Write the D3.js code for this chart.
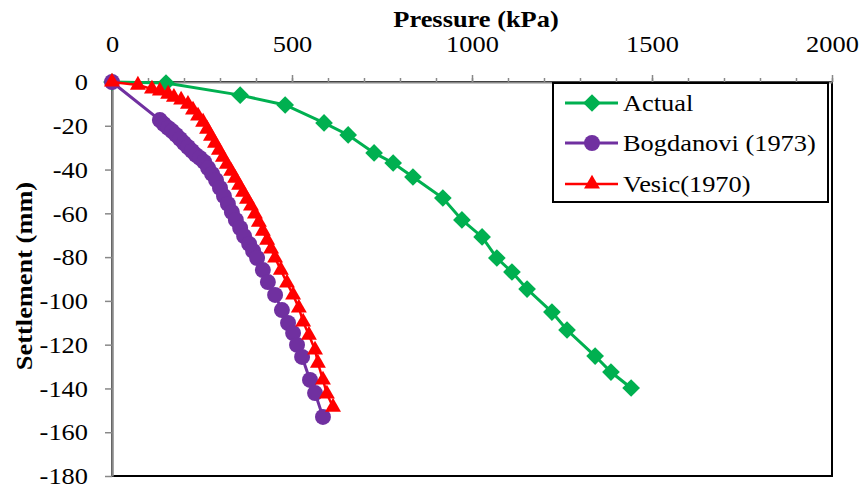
<!DOCTYPE html>
<html>
<head>
<meta charset="utf-8">
<script src="https://cdn.jsdelivr.net/npm/d3@7"></script>
<style>
  body { margin: 0; background: #fff; }
  svg { display: block; font-family: "Liberation Serif", "Times New Roman", serif; }
</style>
</head>
<body>
<svg id="chart" width="862" height="491"></svg>
<script>
// data: pressure (kPa) / settlement (mm)
const actualP = [0, 150, 356, 481, 589, 656, 728, 781, 836, 919, 972, 1028, 1069, 1111, 1153, 1222, 1264, 1342, 1386, 1442];
const actualS = [0, -0.5, -6.0, -10.5, -18.7, -24.2, -32.4, -37.0, -43.4, -53.0, -63.0, -70.8, -80.4, -86.8, -94.6, -105.1, -113.3, -125.2, -132.5, -139.8];

const bogP = [0, 133, 144, 156, 167, 178, 189, 200, 211, 222, 233, 244, 256, 267, 278, 289, 300, 311, 322, 333, 344, 356, 367, 381, 392, 403, 419, 433, 453, 472, 489, 503, 514, 528, 550, 564, 586];
const bogS = [0, -17.4, -19.2, -21.0, -22.4, -24.2, -26.0, -27.9, -29.7, -31.5, -33.3, -34.7, -36.5, -39.3, -42.0, -44.8, -48.4, -52.1, -55.7, -59.4, -63.0, -66.7, -70.4, -74.0, -77.2, -80.4, -85.9, -91.4, -97.3, -104.2, -110.1, -114.7, -120.1, -125.6, -136.1, -142.1, -153.0];

const vesP = [0, 72, 111, 133, 156, 172, 192, 211, 225, 239, 253, 264, 275, 286, 297, 308, 319, 331, 342, 353, 364, 375, 386, 397, 408, 419, 431, 442, 453, 469, 486, 503, 519, 531, 547, 564, 572, 586, 597, 614];
const vesS = [0, -1.4, -3.2, -4.1, -5.5, -6.9, -8.2, -10.1, -12.8, -15.5, -18.3, -21.5, -24.7, -27.9, -31.1, -34.3, -37.5, -40.7, -43.9, -47.1, -50.3, -53.5, -56.6, -60.3, -64.0, -68.1, -72.2, -76.3, -80.4, -85.9, -91.8, -97.3, -103.2, -109.6, -115.6, -122.4, -128.4, -136.1, -142.5, -148.5];

const xTicks = [0, 500, 1000, 1500, 2000];
const xMinorTicks = d3.range(0, 2001, 100);
const yTicks = [0, -20, -40, -60, -80, -100, -120, -140, -160, -180];

const seriesNames = ['Actual', 'Bogdanovi (1973)', 'Vesic(1970)'];
const seriesColors = ['#00B050', '#7030A0', '#FF0000'];

const svg = d3.select('#chart');
const plotL = 112, plotR = 832, plotT = 82, plotB = 476;
const fs = 24, stretch = 1.1;   // the source picture is a little wider than tall

const x = d3.scaleLinear().domain([0, 2000]).range([plotL, plotR]);
const y = d3.scaleLinear().domain([0, -180]).range([plotT, plotB]);

// stretch a text horizontally around its own anchor point
function widen(sel) {
    sel.each(function () {
        const t = d3.select(this);
        const tx = +t.attr('x') || 0, ty = +t.attr('y') || 0;
        t.attr('x', 0).attr('y', 0)
         .attr('transform', `translate(${tx},${ty}) scale(${stretch},1)`);
    });
}

// plot area frame
svg.append('rect')
    .attr('x', plotL).attr('y', plotT)
    .attr('width', plotR - plotL).attr('height', plotB - plotT)
    .attr('fill', 'none').attr('stroke', '#000').attr('stroke-width', 2);

// minor x ticks
svg.append('g')
    .attr('transform', `translate(0,${plotT})`)
    .call(d3.axisTop(x).tickValues(xMinorTicks).tickSize(4).tickFormat(''))
    .call(g => g.select('.domain').remove())
    .call(g => g.selectAll('line').attr('stroke', '#888').attr('stroke-width', 1.5));

// x axis at top
svg.append('g')
    .attr('transform', `translate(0,${plotT})`)
    .call(d3.axisTop(x).tickValues(xTicks).tickSize(7).tickSizeOuter(0).tickPadding(23).tickFormat(d3.format('d')))
    .call(g => g.select('.domain').attr('stroke', '#888').attr('stroke-width', 2))
    .call(g => g.selectAll('line').attr('stroke', '#888').attr('stroke-width', 1.5))
    .call(g => g.selectAll('text').attr('font-size', fs).attr('font-family', '"Liberation Serif", serif').attr('fill', '#000').call(widen));

// y axis
svg.append('g')
    .attr('transform', `translate(${plotL},0)`)
    .call(d3.axisLeft(y).tickValues(yTicks).tickSize(7).tickSizeOuter(0).tickPadding(17)
        .tickFormat(d => d === 0 ? '0' : '-' + Math.abs(d)))
    .call(g => g.select('.domain').attr('stroke', '#888').attr('stroke-width', 2.5))
    .call(g => g.selectAll('line').attr('stroke', '#888').attr('stroke-width', 1.5))
    .call(g => g.selectAll('text').attr('font-size', fs).attr('font-family', '"Liberation Serif", serif').attr('fill', '#000').call(widen));

// axis titles
svg.append('text')
    .attr('transform', `translate(476,27) scale(${stretch},1)`)
    .attr('text-anchor', 'middle')
    .attr('font-size', fs).attr('font-weight', 'bold')
    .text('Pressure (kPa)');

svg.append('text')
    .attr('transform', `translate(32,276) rotate(-90) scale(${stretch},1)`)
    .attr('text-anchor', 'middle')
    .attr('font-size', fs).attr('font-weight', 'bold')
    .text('Settlement (mm)');

const line = d3.line().x(d => x(d[0])).y(d => y(d[1]));

const diamond = d3.symbol().type(d3.symbolDiamond2).size(200);
const circle = d3.symbol().type(d3.symbolCircle).size(200);
const triangle = d3.symbol().type(d3.symbolTriangle).size(110);

const series = [
    { pts: d3.zip(actualP, actualS), color: seriesColors[0], sym: diamond, width: 3 },
    { pts: d3.zip(bogP, bogS), color: seriesColors[1], sym: circle, width: 3 },
    { pts: d3.zip(vesP, vesS), color: seriesColors[2], sym: triangle, width: 2.5 }
];

series.forEach(s => {
    const g = svg.append('g');
    g.append('path')
        .datum(s.pts)
        .attr('d', line)
        .attr('fill', 'none')
        .attr('stroke', s.color)
        .attr('stroke-width', s.width);
    g.selectAll('path.m')
        .data(s.pts)
        .enter().append('path')
        .attr('class', 'm')
        .attr('transform', d => `translate(${x(d[0])},${y(d[1])})`)
        .attr('d', s.sym)
        .attr('fill', s.color);
});

// legend
const lg = svg.append('g');
lg.append('rect')
    .attr('x', 553).attr('y', 83)
    .attr('width', 275).attr('height', 119)
    .attr('fill', '#fff').attr('stroke', '#000').attr('stroke-width', 2);

const rowY = [103, 143, 184];
series.forEach((s, i) => {
    lg.append('line')
        .attr('x1', 565).attr('x2', 618)
        .attr('y1', rowY[i]).attr('y2', rowY[i])
        .attr('stroke', s.color).attr('stroke-width', s.width);
    lg.append('path')
        .attr('transform', `translate(592,${rowY[i]})`)
        .attr('d', s.sym)
        .attr('fill', s.color);
    lg.append('text')
        .attr('transform', `translate(623,${rowY[i]}) scale(${stretch},1)`)
        .attr('dy', '0.35em')
        .attr('font-size', fs)
        .text(seriesNames[i]);
});
</script>
</body>
</html>
